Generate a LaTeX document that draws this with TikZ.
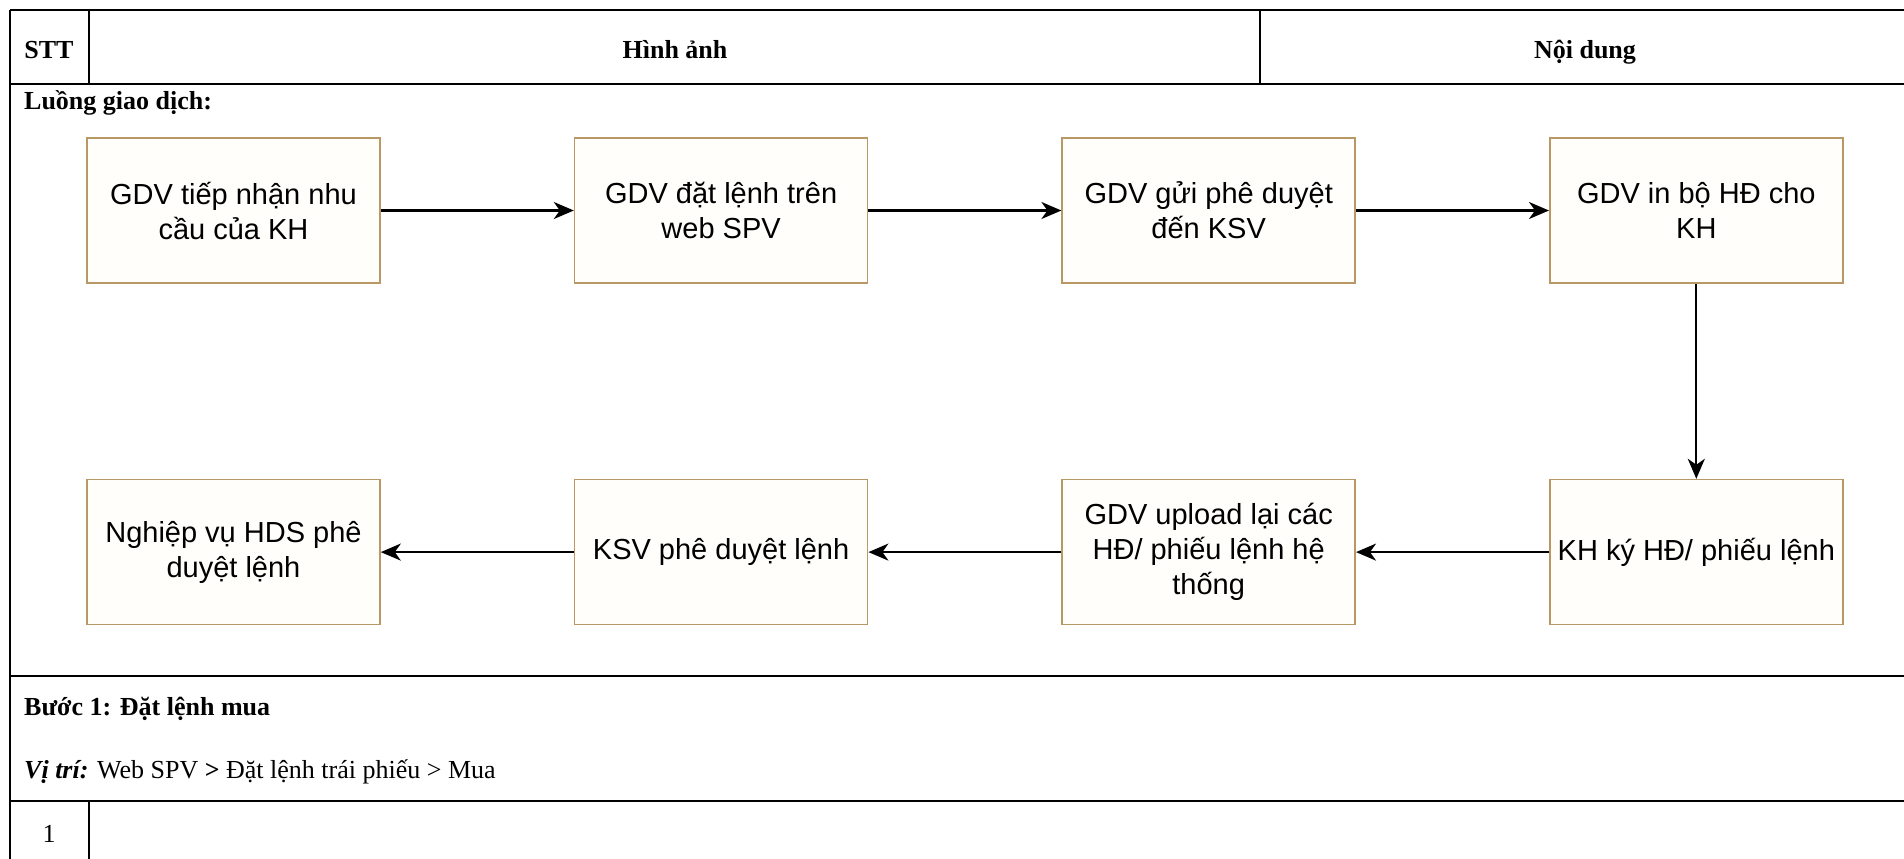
\documentclass[tikz,border=0pt]{standalone}
\usepackage{fontspec}
\setmainfont{Liberation Serif}
\newfontfamily\boxfont{Liberation Sans}
\usepackage{xcolor}
\usetikzlibrary{positioning,arrows.meta}
\definecolor{boxline}{RGB}{184,152,100}
\definecolor{boxfill}{RGB}{255,254,250}

\begin{document}
\begin{tikzpicture}[x=1pt,y=-1pt]
    \tikzstyle{flowbox} = [draw=boxline,fill=boxfill,rectangle,line width=1.6pt,minimum width=293pt,minimum height=145pt,inner sep=2pt,align=center,font=\boxfont\fontsize{29}{35}\selectfont]
    \tikzstyle{flow} = [draw,line width=2.2pt,-{Stealth[length=20pt,width=17pt,inset=6pt]}]
    \tikzstyle{rule} = [line width=2.3pt]
    \tikzstyle{colrule} = [line width=1.4pt]
    \tikzstyle{celltext} = [inner sep=0pt,font=\fontsize{26}{31}\selectfont]
    \useasboundingbox (0,0) rectangle (1904,859);
    % table
    \draw[rule] (10,10) -- (1904,10);
    \draw[rule] (10,84) -- (1904,84);
    \draw[rule] (10,676) -- (1904,676);
    \draw[rule] (10,801) -- (1904,801);
    \draw[line width=1.7pt] (10,10) -- (10,859);
    \draw[colrule] (89,10) -- (89,84);
    \draw[colrule] (1260,10) -- (1260,84);
    \draw[colrule] (89,801) -- (89,859);
    \node[celltext,anchor=base] (stt) at (49,59) {\textbf{STT}};
    \node[celltext,anchor=base] (hinhanh) at (675,59) {\textbf{Hình ảnh}};
    \node[celltext,anchor=base] (noidung) at (1585,59) {\textbf{Nội dung}};
    \node[celltext,anchor=base west] (luong) at (24,110) {\textbf{Luồng giao dịch:}};
    \node[celltext,anchor=base west] (buoc) at (24,715) {\textbf{Bước 1: Đặt lệnh mua}};
    \node[celltext,anchor=base west] (vitri) at (24,778) {\textbf{\textit{Vị trí:}} Web SPV \textbf{>} Đặt lệnh trái phiếu > Mua};
    \node[celltext,anchor=base] (so1) at (49,842) {1};
    % flow
    \node[flowbox] (gdvNhan) at (233.5,210.5) {GDV tiếp nhận nhu\\cầu của KH};
    \node[flowbox] (gdvDat) [right = 193pt of gdvNhan] {GDV đặt lệnh trên\\web SPV};
    \node[flowbox] (gdvGui) [right = 193pt of gdvDat] {GDV gửi phê duyệt\\đến KSV};
    \node[flowbox] (gdvIn) [right = 193pt of gdvGui] {GDV in bộ HĐ cho\\KH};
    \node[flowbox] (khKy) [below = 195pt of gdvIn] {KH ký HĐ/ phiếu lệnh};
    \node[flowbox] (gdvUpload) [left = 193pt of khKy] {GDV upload lại các\\HĐ/ phiếu lệnh hệ\\thống};
    \node[flowbox] (ksvDuyet) [left = 193pt of gdvUpload] {KSV phê duyệt lệnh};
    \node[flowbox] (hdsDuyet) [left = 193pt of ksvDuyet] {Nghiệp vụ HDS phê\\duyệt lệnh};
    \draw[flow] (gdvNhan) -- (gdvDat);
    \draw[flow] (gdvDat) -- (gdvGui);
    \draw[flow] (gdvGui) -- (gdvIn);
    \draw[flow] (gdvIn) -- (khKy);
    \draw[flow] (khKy) -- (gdvUpload);
    \draw[flow] (gdvUpload) -- (ksvDuyet);
    \draw[flow] (ksvDuyet) -- (hdsDuyet);
\end{tikzpicture}
\end{document}
